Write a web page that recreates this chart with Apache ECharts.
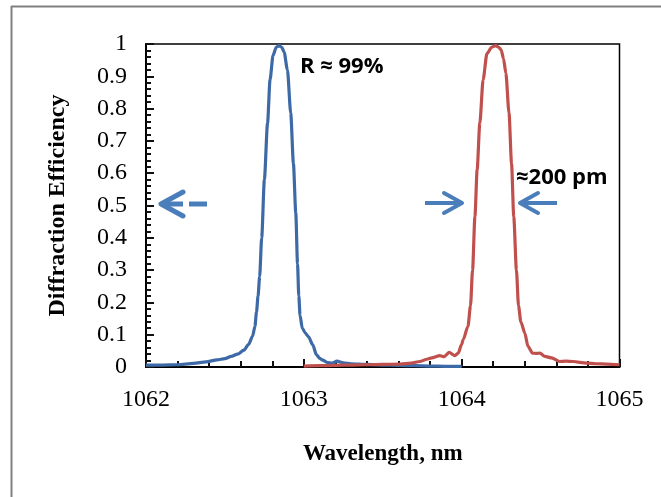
<!DOCTYPE html>
<html>
<head>
<meta charset="utf-8">
<script src="https://cdn.jsdelivr.net/npm/echarts@6/dist/echarts.min.js"></script>
</head>
<body style="margin:0">
<div id="chart" style="width:661px;height:497px"></div>
<script>
// blue grating (1062-1064 nm)
var blueWavelength = [1062.0, 1062.1, 1062.2, 1062.3, 1062.38, 1062.45, 1062.5, 1062.54, 1062.58, 1062.62,
  1062.65, 1062.675, 1062.69, 1062.70, 1062.71, 1062.72, 1062.733, 1062.75, 1062.77, 1062.786,
  1062.805, 1062.825, 1062.843, 1062.86, 1062.875, 1062.896, 1062.917, 1062.934, 1062.949, 1062.96,
  1062.968, 1062.976, 1062.99, 1063.01, 1063.03, 1063.056, 1063.08, 1063.1, 1063.12, 1063.15,
  1063.18, 1063.21, 1063.25, 1063.3, 1063.4, 1063.5, 1063.6, 1063.7, 1063.8, 1063.9, 1064.0];
var blueEfficiency = [0.006, 0.006, 0.007, 0.011, 0.016, 0.022, 0.026, 0.033, 0.040, 0.052,
  0.070, 0.095, 0.125, 0.17, 0.22, 0.28, 0.40, 0.58, 0.755, 0.89,
  0.965, 0.99, 0.995, 0.99, 0.975, 0.92, 0.786, 0.63, 0.477, 0.32,
  0.22, 0.16, 0.12, 0.105, 0.093, 0.069, 0.038, 0.027, 0.021, 0.014,
  0.012, 0.018, 0.013, 0.010, 0.008, 0.006, 0.005, 0.004, 0.003, 0.002, 0.002];

// red grating (1063-1065 nm)
var redWavelength = [1063.0, 1063.1, 1063.2, 1063.3, 1063.4, 1063.5, 1063.61, 1063.68, 1063.735, 1063.78,
  1063.81, 1063.862, 1063.89, 1063.92, 1063.957, 1063.978, 1064.0, 1064.01, 1064.04, 1064.056,
  1064.069, 1064.084, 1064.098, 1064.115, 1064.136, 1064.16, 1064.19, 1064.215, 1064.235, 1064.25,
  1064.265, 1064.28, 1064.30, 1064.316, 1064.33, 1064.347, 1064.36, 1064.375, 1064.40, 1064.42,
  1064.449, 1064.475, 1064.495, 1064.527, 1064.57, 1064.62, 1064.66, 1064.706, 1064.79, 1064.85,
  1064.917, 1065.0];
var redEfficiency = [0.003, 0.004, 0.005, 0.006, 0.007, 0.008, 0.009, 0.012, 0.017, 0.024,
  0.028, 0.035, 0.032, 0.045, 0.035, 0.043, 0.07, 0.085, 0.126, 0.19,
  0.30, 0.466, 0.61, 0.755, 0.89, 0.97, 0.99, 0.995, 0.99, 0.982,
  0.955, 0.91, 0.786, 0.63, 0.466, 0.30, 0.19, 0.14, 0.105, 0.064,
  0.043, 0.042, 0.043, 0.033, 0.028, 0.017, 0.018, 0.017, 0.012, 0.010,
  0.009, 0.007];

var xTicks = [1062, 1063, 1064, 1065];
var yTicks = [0, 0.1, 0.2, 0.3, 0.4, 0.5, 0.6, 0.7, 0.8, 0.9, 1];

function pairs(xs, ys) {
  return xs.map(function (x, i) { return [x, ys[i]]; });
}

var serif = '"Liberation Serif", "DejaVu Serif", serif';
var sans = '"Open Sans", "Noto Sans", sans-serif';
var arrowBlue = '#4a7ebb';

var chart = echarts.init(document.getElementById('chart'));

var option = {
  animation: false,
  grid: {
    left: 146, right: 41.5, top: 44, bottom: 130,
    show: true, borderColor: '#000', borderWidth: 1.5, backgroundColor: 'transparent'
  },
  xAxis: {
    type: 'value', min: xTicks[0], max: xTicks[xTicks.length - 1], interval: 1,
    name: 'Wavelength, nm', nameLocation: 'middle', nameGap: 76,
    nameTextStyle: { fontFamily: serif, fontWeight: 'bold', fontSize: 23, color: '#000' },
    axisLine: { show: true, lineStyle: { color: '#000', width: 2 } },
    axisTick: { show: true, inside: true, length: 8, lineStyle: { color: '#111', width: 2 } },
    minorTick: { show: true, splitNumber: 5, length: 6, lineStyle: { color: '#111', width: 2 } },
    axisLabel: { show: true, margin: 21, fontFamily: serif, fontSize: 24, color: '#000',
      formatter: function (v) { return String(v); } },
    splitLine: { show: false }
  },
  yAxis: {
    type: 'value', min: yTicks[0], max: yTicks[yTicks.length - 1], interval: 0.1,
    name: 'Diffraction Efficiency', nameLocation: 'middle', nameGap: 76,
    nameTextStyle: { fontFamily: serif, fontWeight: 'bold', fontSize: 24, color: '#000' },
    axisLine: { show: true, lineStyle: { color: '#000', width: 2 } },
    axisTick: { show: true, inside: true, length: 8, lineStyle: { color: '#111', width: 2 } },
    minorTick: { show: true, splitNumber: 5, length: 5, lineStyle: { color: '#111', width: 2 } },
    axisLabel: { show: true, margin: 19, fontFamily: serif, fontSize: 24, color: '#000',
      formatter: function (v) { return String(+v.toFixed(1)); } },
    splitLine: { show: false }
  },
  series: [
    {
      name: 'blue', type: 'line',
      data: pairs(blueWavelength, blueEfficiency),
      showSymbol: false, smooth: 0.25, smoothMonotone: 'x',
      lineStyle: { color: '#3d6aa6', width: 3.2 }
    },
    {
      name: 'red', type: 'line',
      data: pairs(redWavelength, redEfficiency),
      showSymbol: false, smooth: 0.25, smoothMonotone: 'x',
      lineStyle: { color: '#c0504d', width: 3.2 }
    }
  ],
  graphic: [
    // figure frame (top and left edges only)
    { type: 'line', shape: { x1: 11, y1: 6.5, x2: 661, y2: 6.5 }, style: { stroke: '#808080', lineWidth: 2 } },
    { type: 'line', shape: { x1: 11.5, y1: 6, x2: 11.5, y2: 497 }, style: { stroke: '#808080', lineWidth: 2 } },
    // annotations
    { type: 'text', left: 300, top: 56, style: { text: 'R \u2248 99%', font: 'bold 22px ' + sans, fill: '#000' } },
    { type: 'text', left: 516, top: 167, style: { text: '\u2248200 pm', font: 'bold 22px ' + sans, fill: '#000' } },
    // dashed arrow pointing left
    { type: 'polyline', shape: { points: [[183, 192], [161, 204], [183, 216]] },
      style: { stroke: arrowBlue, lineWidth: 5, fill: null, lineCap: 'round', lineJoin: 'round' } },
    { type: 'line', shape: { x1: 162, y1: 204, x2: 183, y2: 204 }, style: { stroke: arrowBlue, lineWidth: 5 } },
    { type: 'line', shape: { x1: 189, y1: 204, x2: 207, y2: 204 }, style: { stroke: arrowBlue, lineWidth: 5 } },
    // width arrows
    { type: 'line', shape: { x1: 425, y1: 203, x2: 461, y2: 203 }, style: { stroke: arrowBlue, lineWidth: 4 } },
    { type: 'polyline', shape: { points: [[444, 193], [462, 203], [444, 213]] },
      style: { stroke: arrowBlue, lineWidth: 4, fill: null, lineCap: 'round', lineJoin: 'round' } },
    { type: 'line', shape: { x1: 521, y1: 203, x2: 557, y2: 203 }, style: { stroke: arrowBlue, lineWidth: 4 } },
    { type: 'polyline', shape: { points: [[538, 193], [520, 203], [538, 213]] },
      style: { stroke: arrowBlue, lineWidth: 4, fill: null, lineCap: 'round', lineJoin: 'round' } }
  ]
};

chart.setOption(option);
window.onresize = chart.resize;
</script>
</body>
</html>
